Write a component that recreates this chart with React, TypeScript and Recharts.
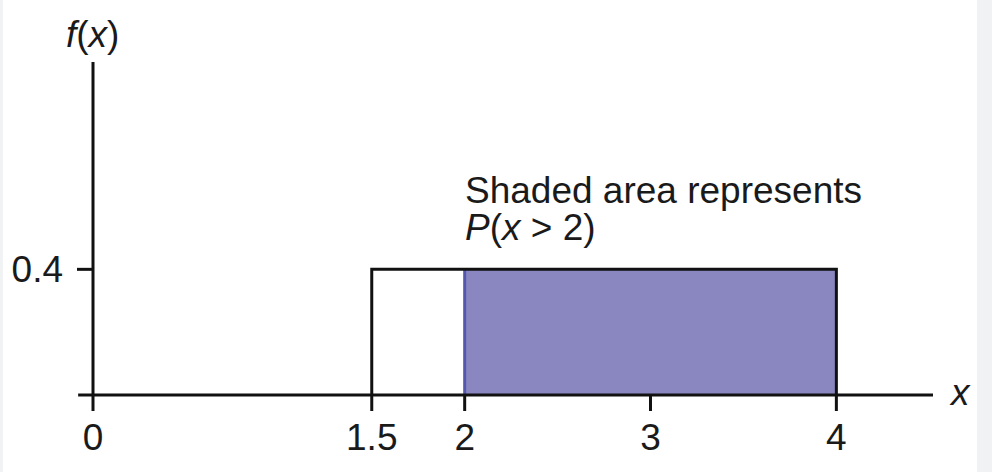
import { ComposedChart, Line, Area, XAxis, YAxis, ReferenceLine } from "recharts";

// uniform density on [1.5, 4], height 0.4; shaded part is P(x > 2)
const density = 0.4;
const outlineX = [1.5, 1.5, 4, 4];
const outlineY = [0, density, density, 0];
const shadeX = [2, 4];
const xTicks = [0, 1.5, 2, 3, 4];
const yTicks = [0.4];

const outline = outlineX.map((x, i) => ({ x, y: outlineY[i] }));
const shade = shadeX.map((x) => ({ x, y: density }));
const shadeEdge = [
  { x: shadeX[0], y: 0 },
  { x: shadeX[0], y: density },
];

const FONT = "'Liberation Sans', Arial, sans-serif";
const INK = "#111";
const FS = 37;

export default function App() {
  return (
    <div
      style={{
        position: "fixed",
        left: 0,
        top: 0,
        width: 992,
        height: 472,
        background: "#f1f2f4",
        fontFamily: FONT,
      }}
    >
      <div style={{ position: "absolute", left: 3, top: 0, width: 974, height: 472, background: "#fff" }} />
      <div style={{ position: "absolute", left: 0, top: 0 }}>
        <ComposedChart width={992} height={472} margin={{ top: 62, right: 59, bottom: 0, left: 0 }}>
          <XAxis
            dataKey="x"
            type="number"
            domain={[0, 4.52]}
            ticks={xTicks}
            allowDataOverflow
            stroke={INK}
            strokeWidth={3}
            tickSize={16}
            tickMargin={13}
            tick={{ fill: "#1a1a1a", fontSize: FS, fontFamily: FONT }}
            height={77}
          />
          <YAxis
            type="number"
            domain={[0, 1.06]}
            ticks={yTicks}
            allowDataOverflow
            stroke={INK}
            strokeWidth={3}
            tickSize={16}
            tickMargin={14}
            width={93}
            tick={{ fill: "#1a1a1a", fontSize: FS, fontFamily: FONT }}
          />
          <ReferenceLine
            segment={[
              { x: -0.08, y: 0 },
              { x: 0, y: 0 },
            ]}
            ifOverflow="visible"
            stroke={INK}
            strokeWidth={3}
          />
          <Area
            data={shade}
            dataKey="y"
            type="linear"
            baseValue={0}
            fill="#8a87c0"
            fillOpacity={1}
            stroke="none"
            isAnimationActive={false}
          />
          <Line
            data={shadeEdge}
            dataKey="y"
            type="linear"
            stroke="#5457ae"
            strokeWidth={3}
            dot={false}
            isAnimationActive={false}
          />
          <Line
            data={outline}
            dataKey="y"
            type="linear"
            stroke={INK}
            strokeWidth={3}
            dot={false}
            isAnimationActive={false}
          />
        </ComposedChart>
      </div>
      <svg
        width={992}
        height={472}
        style={{ position: "absolute", left: 0, top: 0, pointerEvents: "none" }}
        fontFamily={FONT}
        fontSize={FS}
        fill="#1a1a1a"
      >
        <text x={66} y={47}>
          <tspan fontStyle="italic">f</tspan>(<tspan fontStyle="italic">x</tspan>)
        </text>
        <text x={951} y={405} fontStyle="italic">
          x
        </text>
        <text x={465} y={203}>Shaded area represents</text>
        <text x={465} y={240}>
          <tspan fontStyle="italic">P</tspan>(<tspan fontStyle="italic">x</tspan> &gt; 2)
        </text>
      </svg>
    </div>
  );
}
